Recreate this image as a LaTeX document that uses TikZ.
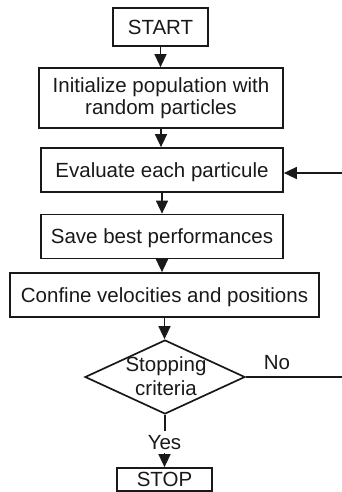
\documentclass[tikz,border=0pt]{standalone}
\usepackage{fontspec}
\setmainfont{Liberation Sans}
\usetikzlibrary{shapes.geometric,arrows.meta}
\begin{document}
\begin{tikzpicture}[x=1pt,y=-1pt,
  every node/.style={font=\fontsize{20.5}{22}\selectfont, text=black!90},
  boxnode/.style={draw=black!90, line width=1.7pt, inner sep=0pt, minimum width=#1},
  onetext/.style={text height=14.7pt, text depth=0pt},
  conn/.style={draw=black!90, line width=1.4pt},
  arr/.style={conn, -{Triangle[length=13pt,width=12pt]}}]
\useasboundingbox (0,0) rectangle (342,492);
\node[boxnode=95, minimum height=38, line width=2.2pt, onetext] (start) at (160.5,27) {START};
\node[boxnode=244, minimum height=60, align=center] (init) at (161,98) {Initialize population with\\random particles};
\node[boxnode=242, minimum height=44, onetext] (eval) at (162,170) {Evaluate each particule};
\node[boxnode=242, minimum height=44, onetext] (save) at (162,236.5) {Save best performances};
\node[boxnode=309, minimum height=44, onetext] (conf) at (164.5,295) {Confine velocities and positions};
\node[draw=black!90, line width=1.7pt, diamond, inner sep=0pt, minimum width=160, minimum height=74] (dec) at (165,377) {};
\node[align=center, font=\fontsize{20.5}{24}\selectfont, inner sep=0pt] (dectext) at (166,376) {Stopping\\criteria};
\node[inner sep=0pt, onetext] (no) at (277,362.5) {No};
\node[inner sep=3pt, onetext] (yes) at (164.5,442) {Yes};
\node[boxnode=95, minimum height=23, onetext] (stop) at (164.5,479.5) {STOP};
\coordinate (fb) at (342,173);
\coordinate (noend) at (342,377);
\draw[arr] (start.south) -- (start.south |- init.north);
\draw[arr] (init.south) -- (init.south |- eval.north);
\draw[arr] (eval.south) -- (eval.south |- save.north);
\draw[arr] (save.south) -- (save.south |- conf.north);
\draw[arr] (conf.south) -- (conf.south |- dec.north);
\draw[arr] (fb) -- (fb -| eval.east);
\draw[conn] (dec.east) -- (noend);
\draw[conn] (dec.south) -- (dec.south |- yes.north);
\draw[arr] (yes.south) -- (yes.south |- stop.north);
\end{tikzpicture}
\end{document}
